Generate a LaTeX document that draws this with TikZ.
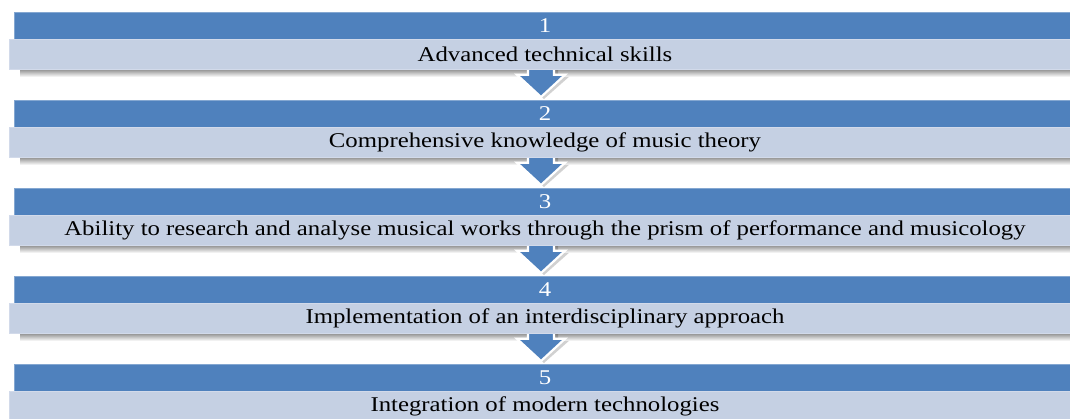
\documentclass[tikz,border=0pt]{standalone}
\usepackage{fontspec}
\usepackage{graphicx}
\setmainfont{Liberation Serif}
\usetikzlibrary{calc}
\definecolor{darkbar}{RGB}{79,129,189}
\definecolor{lightbar}{RGB}{197,208,227}
\definecolor{lightedge}{RGB}{210,218,234}
\pgfdeclarelayer{shadowlayer}
\pgfdeclarelayer{arrowlayer}
\pgfsetlayers{shadowlayer,arrowlayer,main}
\newcommand{\wide}[1]{\scalebox{1.18}[1]{#1}}
\tikzset{
  txtfont/.style={font=\fontsize{21}{24}\selectfont},
  numbar/.style={fill=darkbar, draw=darkbar!70!white, line width=0.6pt, minimum width=1070, minimum height=27, anchor=north west, inner sep=0pt},
  labbar/.style={fill=lightbar, draw=lightedge, line width=0.8pt, minimum width=1075, minimum height=30, anchor=north west, inner sep=0pt},
  numtext/.style={txtfont, text=white, inner sep=0pt},
  labtext/.style={txtfont, text=black, inner sep=0pt},
  downarrow/.style={fill=darkbar, draw=white, line width=2.2pt, line join=miter},
  arrowshadow/.style={fill=black, opacity=0.18},
}
\begin{document}
\begin{tikzpicture}[x=1pt,y=-1pt]
\useasboundingbox (0,0) rectangle (1070,418);
\begin{pgfonlayer}{shadowlayer}
  \fill[white] (0,0) rectangle (1070,418);
\end{pgfonlayer}
\coordinate (cx) at (541,0);
\foreach \k/\num/\txt in {0/1/{Advanced technical skills},1/2/{Comprehensive knowledge of music theory},2/3/{Ability to research and analyse musical works through the prism of performance and musicology},3/4/{Implementation of an interdisciplinary approach},4/5/{Integration of modern technologies}}{
  \pgfmathsetmacro{\yy}{12+88*\k}
  \begin{pgfonlayer}{shadowlayer}
    \shade[top color=black!45, bottom color=white] (20,\yy+57) rectangle (1075,\yy+65);
  \end{pgfonlayer}
  \node[numbar] (n\num) at (14,\yy) {};
  \node[numtext] (t\num) at (545,\yy+14) {\wide{\num}};
  \node[labbar] (l\num) at (9,\yy+27) {};
  \node[labtext] (m\num) at (545,\yy+42) {\wide{\txt}};
}
\begin{pgfonlayer}{arrowlayer}
\foreach \a/\b in {1/2,2/3,3/4,4/5}{
  \coordinate (top\a) at ($(cx |- l\a.south)+(0,-3)$);
  \coordinate (tip\a) at ($(cx |- n\b.north)+(0,-3)$);
  \fill[arrowshadow] ($(top\a)+(-11,2)$) -- ++(0,8) -- ++(-11,0) -- ($(tip\a)+(3,2)$) -- ($(top\a)+(28,10)$) -- ++(-11,0) -- ++(0,-8) -- cycle;
  \draw[downarrow] ($(top\a)+(-13,0)$) -- ($(top\a)+(-13,8)$) -- ($(top\a)+(-24,8)$) -- (tip\a)
    -- ($(top\a)+(24,8)$) -- ($(top\a)+(13,8)$) -- ($(top\a)+(13,0)$) -- cycle;
}
\end{pgfonlayer}
\end{tikzpicture}
\end{document}
